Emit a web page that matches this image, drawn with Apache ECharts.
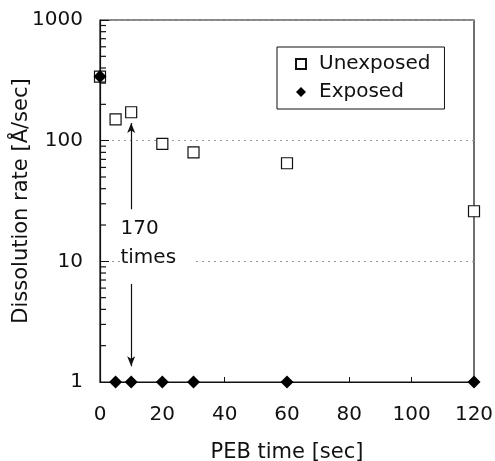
<!DOCTYPE html>
<html>
<head>
<meta charset="utf-8">
<script src="https://cdn.jsdelivr.net/npm/echarts@6/dist/echarts.min.js"></script>
<style>
  html, body { margin: 0; padding: 0; background: #fff; }
  #chart { width: 495px; height: 461px; }
</style>
</head>
<body>
<div id="chart"></div>
<script>
// PEB time [sec]
const pebTimes = [0, 5, 10, 20, 30, 60, 120];
// dissolution rate [A/sec]
const unexposedRates = [340, 150, 172, 94, 80, 65, 26];
const exposedRates = [340, 1, 1, 1, 1, 1, 1];
// log-axis minor tick values (2..9 in each decade)
const minorTickValues = [2, 3, 4, 5, 6, 7, 8, 9, 20, 30, 40, 50, 60, 70, 80, 90, 200, 300, 400, 500, 600, 700, 800, 900];
// "170 times" arrow: [from, to] in data space
const arrowUp = [[10, 27], [10, 140]];
const arrowDown = [[10, 6.5], [10, 1.35]];
const noteText = '170\ntimes';
const notePos = [6.4, 14.2];

const chart = echarts.init(document.getElementById('chart'));
const ink = '#111';
const font = 'DejaVu Sans, sans-serif';

const zip = (xs, ys) => xs.map((x, i) => [x, ys[i]]);

const option = {
  animation: false,
  backgroundColor: '#fff',
  grid: {
    left: 100, right: 21, top: 20, bottom: 79,
    outerBoundsMode: 'none',
    show: true, borderColor: ink, borderWidth: 1.2, containLabel: false
  },
  legend: {
    data: ['Unexposed', 'Exposed'],
    orient: 'vertical',
    left: 277, top: 47,
    padding: [5, 14, 5, 18],
    itemGap: 4,
    itemWidth: 10, itemHeight: 10,
    borderColor: ink, borderWidth: 1,
    backgroundColor: '#fff',
    textStyle: { fontFamily: font, fontSize: 20, lineHeight: 24, color: ink, padding: [0, 0, 0, 8] }
  },
  xAxis: {
    type: 'value',
    min: 0, max: 120, interval: 20,
    name: 'PEB time [sec]',
    nameLocation: 'middle',
    nameGap: 60,
    nameMoveOverlap: false,
    nameTextStyle: { fontFamily: font, fontSize: 21, color: ink },
    axisLine: { lineStyle: { color: ink, width: 1.2 } },
    axisTick: { inside: true, length: 5, lineStyle: { color: ink } },
    axisLabel: { fontFamily: font, fontSize: 20, color: ink, margin: 23 },
    splitLine: { show: false }
  },
  yAxis: {
    type: 'log',
    logBase: 10,
    min: 1, max: 1000,
    name: 'Dissolution rate [Å/sec]',
    nameLocation: 'middle',
    nameGap: 68,
    nameMoveOverlap: false,
    nameTextStyle: { fontFamily: font, fontSize: 21, color: ink },
    axisLine: { lineStyle: { color: ink, width: 1.2 } },
    axisTick: { inside: true, length: 9, lineStyle: { color: ink } },
    axisLabel: {
      fontFamily: font, fontSize: 20, color: ink, margin: 17,
      formatter: v => String(Math.round(v))
    },
    splitLine: { show: true, lineStyle: { color: '#999', type: [2, 4], width: 1 } }
  },
  series: [
    {
      name: 'minor ticks',
      type: 'scatter',
      silent: true,
      symbol: 'rect',
      symbolSize: [6, 1.2],
      symbolOffset: [3, 0],
      itemStyle: { color: ink, opacity: 1 },
      data: minorTickValues.map(v => [0, v]),
      z: 1
    },
    {
      name: 'Unexposed',
      type: 'scatter',
      symbol: 'rect',
      symbolSize: 11,
      itemStyle: { color: '#fff', borderColor: ink, borderWidth: 1.2, opacity: 1 },
      data: zip(pebTimes, unexposedRates),
      z: 3,
      markLine: {
        silent: true,
        symbol: ['none', 'arrow'],
        symbolSize: [6, 10],
        lineStyle: { color: ink, type: 'solid', width: 1.2 },
        label: { show: false },
        data: [
          [{ coord: arrowUp[0] }, { coord: arrowUp[1] }],
          [{ coord: arrowDown[0] }, { coord: arrowDown[1] }]
        ]
      }
    },
    {
      name: 'Exposed',
      type: 'scatter',
      symbol: 'diamond',
      symbolSize: 13,
      itemStyle: { color: '#000', opacity: 1 },
      data: zip(pebTimes, exposedRates),
      z: 4
    },
    {
      name: 'note',
      type: 'scatter',
      silent: true,
      symbol: 'rect',
      symbolSize: 1,
      itemStyle: { color: '#fff', opacity: 1 },
      data: [notePos],
      z: 5,
      label: {
        show: true,
        formatter: noteText,
        position: 'right',
        distance: 0,
        align: 'left',
        verticalAlign: 'middle',
        fontFamily: font,
        fontSize: 20,
        lineHeight: 29,
        color: ink,
        backgroundColor: '#fff',
        padding: [0, 16, 0, 0]
      }
    }
  ]
};

chart.setOption(option);
</script>
</body>
</html>
